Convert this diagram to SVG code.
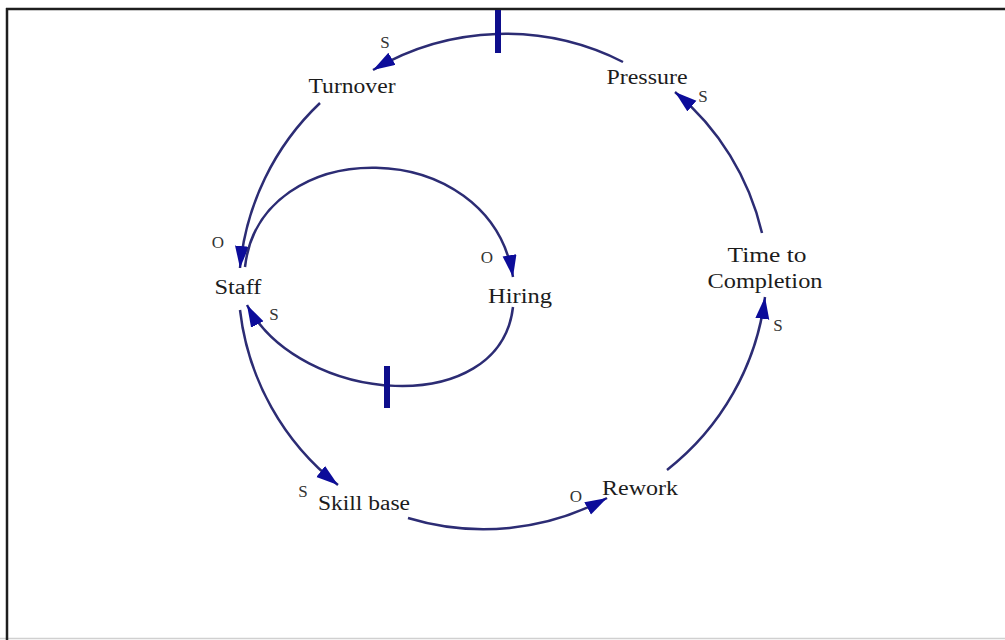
<svg xmlns="http://www.w3.org/2000/svg" width="1005" height="640" viewBox="0 0 1005 640">
<style>
.link{fill:none;stroke:#2c2c74;stroke-width:2.5}
.tick{fill:#0e0e8c}
.lbl{font-family:"Liberation Serif",serif;font-size:20px;fill:#1c1c1c;text-anchor:middle}
.pol{font-family:"Liberation Serif",serif;font-size:17px;fill:#333;text-anchor:middle}
</style>
<defs>
<marker id="ah" markerUnits="userSpaceOnUse" markerWidth="24" markerHeight="16" refX="22" refY="7" orient="auto">
<path d="M0,0 L22,7 L0,14 z" fill="#0c0c9a"/>
</marker>
</defs>
<rect width="1005" height="640" fill="#fff"/>
<line x1="0" y1="638.5" x2="1005" y2="638.5" stroke="#d0d0d0" stroke-width="1.5"/>
<line x1="6" y1="9" x2="1005" y2="9" stroke="#1e1e1e" stroke-width="2.5"/>
<line x1="7" y1="8" x2="7" y2="640" stroke="#1e1e1e" stroke-width="2.5"/>
<g id="connectors">
<path class="link" d="M 623 62 A 260 260 0 0 0 373 70" marker-end="url(#ah)"/>
<rect class="tick" x="495" y="10" width="6" height="43"/>
<path class="link" d="M 320 103 A 260 260 0 0 0 240 268" marker-end="url(#ah)"/>
<path class="link" d="M 240 310 A 260 260 0 0 0 338 485" marker-end="url(#ah)"/>
<path class="link" d="M 408 518 A 260 260 0 0 0 607 498" marker-end="url(#ah)"/>
<path class="link" d="M 667 470 A 260 260 0 0 0 765 297" marker-end="url(#ah)"/>
<path class="link" d="M 762 233 A 260 260 0 0 0 675 92" marker-end="url(#ah)"/>
<path class="link" d="M 245 267 C 260 133, 490 133, 513 277" marker-end="url(#ah)"/>
<path class="link" d="M 513 307 C 500 420, 300 405, 247 305" marker-end="url(#ah)"/>
<rect class="tick" x="384" y="366" width="6" height="42"/>
<text class="pol" x="385" y="48">S</text>
<text class="pol" x="703" y="102">S</text>
<text class="pol" x="778" y="331">S</text>
<text class="pol" x="274" y="320">S</text>
<text class="pol" x="303" y="497">S</text>
<text class="pol" x="218" y="248">O</text>
<text class="pol" x="487" y="263">O</text>
<text class="pol" x="576" y="502">O</text>
</g>
<g id="turnover"><text class="lbl" x="352" y="93" textLength="87" lengthAdjust="spacingAndGlyphs">Turnover</text></g>
<g id="pressure"><text class="lbl" x="647" y="84" textLength="81" lengthAdjust="spacingAndGlyphs">Pressure</text></g>
<g id="staff"><text class="lbl" x="238" y="294" textLength="47" lengthAdjust="spacingAndGlyphs">Staff</text></g>
<g id="hiring"><text class="lbl" x="520" y="303" textLength="64" lengthAdjust="spacingAndGlyphs">Hiring</text></g>
<g id="time-to-completion"><text class="lbl" x="767" y="262" textLength="79" lengthAdjust="spacingAndGlyphs">Time to</text><text class="lbl" x="765" y="288" textLength="115" lengthAdjust="spacingAndGlyphs">Completion</text></g>
<g id="skill-base"><text class="lbl" x="364" y="510" textLength="92" lengthAdjust="spacingAndGlyphs">Skill base</text></g>
<g id="rework"><text class="lbl" x="640" y="495" textLength="76" lengthAdjust="spacingAndGlyphs">Rework</text></g>
</svg>
